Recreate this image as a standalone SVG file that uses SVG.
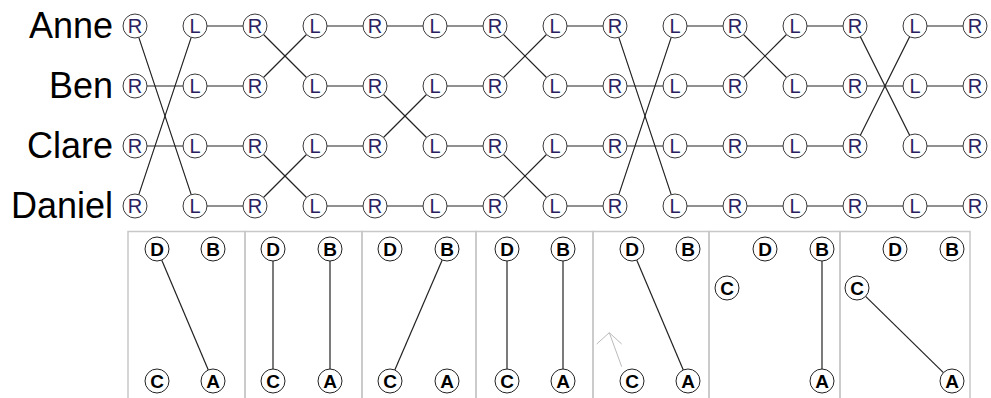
<svg xmlns="http://www.w3.org/2000/svg" width="991" height="398" viewBox="0 0 991 398">
<defs>
<style>
.bg{fill:#fff}
.n circle{fill:#fff;stroke:#3a3a3a;stroke-width:1}
.n text{font-family:"Liberation Sans",Arial,sans-serif;font-size:20px;fill:#2a2060;text-anchor:middle}
.p circle{fill:#fff;stroke:#222;stroke-width:1}
.p text{font-family:"Liberation Sans",Arial,sans-serif;font-size:19px;font-weight:bold;fill:#000;text-anchor:middle}
.lbl{font-family:"Liberation Sans",Arial,sans-serif;font-size:36px;fill:#000;text-anchor:end}
.c line{stroke:#222;stroke-width:1.2;fill:none}
.frame rect{fill:none;stroke:#c8c8c8;stroke-width:1.5}
.hint{stroke:#bbb;stroke-width:1;fill:none}
</style>
</defs>
<rect class="bg" x="0" y="0" width="991" height="398"/>

<g id="labels">
<text class="lbl" x="113" y="38">Anne</text>
<text class="lbl" x="113" y="98">Ben</text>
<text class="lbl" x="113" y="158">Clare</text>
<text class="lbl" x="113" y="218">Daniel</text>
</g>

<g id="connectors" class="c">
<!-- gap 0 -->
<line x1="138.79" y1="37.38" x2="191.21" y2="194.62"/>
<line x1="138.79" y1="194.62" x2="191.21" y2="37.38"/>
<line x1="147" y1="86" x2="183" y2="86"/>
<line x1="147" y1="146" x2="183" y2="146"/>
<!-- gap 1 -->
<line x1="207" y1="26" x2="243" y2="26"/>
<line x1="207" y1="86" x2="243" y2="86"/>
<line x1="207" y1="146" x2="243" y2="146"/>
<line x1="207" y1="206" x2="243" y2="206"/>
<!-- gap 2 -->
<line x1="263.49" y1="34.49" x2="306.51" y2="77.51"/>
<line x1="263.49" y1="77.51" x2="306.51" y2="34.49"/>
<line x1="263.49" y1="154.49" x2="306.51" y2="197.51"/>
<line x1="263.49" y1="197.51" x2="306.51" y2="154.49"/>
<!-- gap 3 -->
<line x1="327" y1="26" x2="363" y2="26"/>
<line x1="327" y1="86" x2="363" y2="86"/>
<line x1="327" y1="146" x2="363" y2="146"/>
<line x1="327" y1="206" x2="363" y2="206"/>
<!-- gap 4 -->
<line x1="387" y1="26" x2="423" y2="26"/>
<line x1="383.49" y1="94.49" x2="426.51" y2="137.51"/>
<line x1="383.49" y1="137.51" x2="426.51" y2="94.49"/>
<line x1="387" y1="206" x2="423" y2="206"/>
<!-- gap 5 -->
<line x1="447" y1="26" x2="483" y2="26"/>
<line x1="447" y1="86" x2="483" y2="86"/>
<line x1="447" y1="146" x2="483" y2="146"/>
<line x1="447" y1="206" x2="483" y2="206"/>
<!-- gap 6 -->
<line x1="503.49" y1="34.49" x2="546.51" y2="77.51"/>
<line x1="503.49" y1="77.51" x2="546.51" y2="34.49"/>
<line x1="503.49" y1="154.49" x2="546.51" y2="197.51"/>
<line x1="503.49" y1="197.51" x2="546.51" y2="154.49"/>
<!-- gap 7 -->
<line x1="567" y1="26" x2="603" y2="26"/>
<line x1="567" y1="86" x2="603" y2="86"/>
<line x1="567" y1="146" x2="603" y2="146"/>
<line x1="567" y1="206" x2="603" y2="206"/>
<!-- gap 8 -->
<line x1="618.79" y1="37.38" x2="671.21" y2="194.62"/>
<line x1="618.79" y1="194.62" x2="671.21" y2="37.38"/>
<line x1="627" y1="86" x2="663" y2="86"/>
<line x1="627" y1="146" x2="663" y2="146"/>
<!-- gap 9 -->
<line x1="687" y1="26" x2="723" y2="26"/>
<line x1="687" y1="86" x2="723" y2="86"/>
<line x1="687" y1="146" x2="723" y2="146"/>
<line x1="687" y1="206" x2="723" y2="206"/>
<!-- gap 10 -->
<line x1="743.49" y1="34.49" x2="786.51" y2="77.51"/>
<line x1="743.49" y1="77.51" x2="786.51" y2="34.49"/>
<line x1="747" y1="146" x2="783" y2="146"/>
<line x1="747" y1="206" x2="783" y2="206"/>
<!-- gap 11 -->
<line x1="807" y1="26" x2="843" y2="26"/>
<line x1="807" y1="86" x2="843" y2="86"/>
<line x1="807" y1="146" x2="843" y2="146"/>
<line x1="807" y1="206" x2="843" y2="206"/>
<!-- gap 12 -->
<line x1="860.37" y1="36.73" x2="909.63" y2="135.27"/>
<line x1="860.37" y1="135.27" x2="909.63" y2="36.73"/>
<line x1="867" y1="86" x2="903" y2="86"/>
<line x1="867" y1="206" x2="903" y2="206"/>
<!-- gap 13 -->
<line x1="927" y1="26" x2="963" y2="26"/>
<line x1="927" y1="86" x2="963" y2="86"/>
<line x1="927" y1="146" x2="963" y2="146"/>
<line x1="927" y1="206" x2="963" y2="206"/>
</g>

<g id="nodes">
<g id="anne-0" class="n"><circle cx="135" cy="26" r="12"/><text x="135" y="33">R</text></g>
<g id="anne-1" class="n"><circle cx="195" cy="26" r="12"/><text x="195" y="33">L</text></g>
<g id="anne-2" class="n"><circle cx="255" cy="26" r="12"/><text x="255" y="33">R</text></g>
<g id="anne-3" class="n"><circle cx="315" cy="26" r="12"/><text x="315" y="33">L</text></g>
<g id="anne-4" class="n"><circle cx="375" cy="26" r="12"/><text x="375" y="33">R</text></g>
<g id="anne-5" class="n"><circle cx="435" cy="26" r="12"/><text x="435" y="33">L</text></g>
<g id="anne-6" class="n"><circle cx="495" cy="26" r="12"/><text x="495" y="33">R</text></g>
<g id="anne-7" class="n"><circle cx="555" cy="26" r="12"/><text x="555" y="33">L</text></g>
<g id="anne-8" class="n"><circle cx="615" cy="26" r="12"/><text x="615" y="33">R</text></g>
<g id="anne-9" class="n"><circle cx="675" cy="26" r="12"/><text x="675" y="33">L</text></g>
<g id="anne-10" class="n"><circle cx="735" cy="26" r="12"/><text x="735" y="33">R</text></g>
<g id="anne-11" class="n"><circle cx="795" cy="26" r="12"/><text x="795" y="33">L</text></g>
<g id="anne-12" class="n"><circle cx="855" cy="26" r="12"/><text x="855" y="33">R</text></g>
<g id="anne-13" class="n"><circle cx="915" cy="26" r="12"/><text x="915" y="33">L</text></g>
<g id="anne-14" class="n"><circle cx="975" cy="26" r="12"/><text x="975" y="33">R</text></g>

<g id="ben-0" class="n"><circle cx="135" cy="86" r="12"/><text x="135" y="93">R</text></g>
<g id="ben-1" class="n"><circle cx="195" cy="86" r="12"/><text x="195" y="93">L</text></g>
<g id="ben-2" class="n"><circle cx="255" cy="86" r="12"/><text x="255" y="93">R</text></g>
<g id="ben-3" class="n"><circle cx="315" cy="86" r="12"/><text x="315" y="93">L</text></g>
<g id="ben-4" class="n"><circle cx="375" cy="86" r="12"/><text x="375" y="93">R</text></g>
<g id="ben-5" class="n"><circle cx="435" cy="86" r="12"/><text x="435" y="93">L</text></g>
<g id="ben-6" class="n"><circle cx="495" cy="86" r="12"/><text x="495" y="93">R</text></g>
<g id="ben-7" class="n"><circle cx="555" cy="86" r="12"/><text x="555" y="93">L</text></g>
<g id="ben-8" class="n"><circle cx="615" cy="86" r="12"/><text x="615" y="93">R</text></g>
<g id="ben-9" class="n"><circle cx="675" cy="86" r="12"/><text x="675" y="93">L</text></g>
<g id="ben-10" class="n"><circle cx="735" cy="86" r="12"/><text x="735" y="93">R</text></g>
<g id="ben-11" class="n"><circle cx="795" cy="86" r="12"/><text x="795" y="93">L</text></g>
<g id="ben-12" class="n"><circle cx="855" cy="86" r="12"/><text x="855" y="93">R</text></g>
<g id="ben-13" class="n"><circle cx="915" cy="86" r="12"/><text x="915" y="93">L</text></g>
<g id="ben-14" class="n"><circle cx="975" cy="86" r="12"/><text x="975" y="93">R</text></g>

<g id="clare-0" class="n"><circle cx="135" cy="146" r="12"/><text x="135" y="153">R</text></g>
<g id="clare-1" class="n"><circle cx="195" cy="146" r="12"/><text x="195" y="153">L</text></g>
<g id="clare-2" class="n"><circle cx="255" cy="146" r="12"/><text x="255" y="153">R</text></g>
<g id="clare-3" class="n"><circle cx="315" cy="146" r="12"/><text x="315" y="153">L</text></g>
<g id="clare-4" class="n"><circle cx="375" cy="146" r="12"/><text x="375" y="153">R</text></g>
<g id="clare-5" class="n"><circle cx="435" cy="146" r="12"/><text x="435" y="153">L</text></g>
<g id="clare-6" class="n"><circle cx="495" cy="146" r="12"/><text x="495" y="153">R</text></g>
<g id="clare-7" class="n"><circle cx="555" cy="146" r="12"/><text x="555" y="153">L</text></g>
<g id="clare-8" class="n"><circle cx="615" cy="146" r="12"/><text x="615" y="153">R</text></g>
<g id="clare-9" class="n"><circle cx="675" cy="146" r="12"/><text x="675" y="153">L</text></g>
<g id="clare-10" class="n"><circle cx="735" cy="146" r="12"/><text x="735" y="153">R</text></g>
<g id="clare-11" class="n"><circle cx="795" cy="146" r="12"/><text x="795" y="153">L</text></g>
<g id="clare-12" class="n"><circle cx="855" cy="146" r="12"/><text x="855" y="153">R</text></g>
<g id="clare-13" class="n"><circle cx="915" cy="146" r="12"/><text x="915" y="153">L</text></g>
<g id="clare-14" class="n"><circle cx="975" cy="146" r="12"/><text x="975" y="153">R</text></g>

<g id="daniel-0" class="n"><circle cx="135" cy="206" r="12"/><text x="135" y="213">R</text></g>
<g id="daniel-1" class="n"><circle cx="195" cy="206" r="12"/><text x="195" y="213">L</text></g>
<g id="daniel-2" class="n"><circle cx="255" cy="206" r="12"/><text x="255" y="213">R</text></g>
<g id="daniel-3" class="n"><circle cx="315" cy="206" r="12"/><text x="315" y="213">L</text></g>
<g id="daniel-4" class="n"><circle cx="375" cy="206" r="12"/><text x="375" y="213">R</text></g>
<g id="daniel-5" class="n"><circle cx="435" cy="206" r="12"/><text x="435" y="213">L</text></g>
<g id="daniel-6" class="n"><circle cx="495" cy="206" r="12"/><text x="495" y="213">R</text></g>
<g id="daniel-7" class="n"><circle cx="555" cy="206" r="12"/><text x="555" y="213">L</text></g>
<g id="daniel-8" class="n"><circle cx="615" cy="206" r="12"/><text x="615" y="213">R</text></g>
<g id="daniel-9" class="n"><circle cx="675" cy="206" r="12"/><text x="675" y="213">L</text></g>
<g id="daniel-10" class="n"><circle cx="735" cy="206" r="12"/><text x="735" y="213">R</text></g>
<g id="daniel-11" class="n"><circle cx="795" cy="206" r="12"/><text x="795" y="213">L</text></g>
<g id="daniel-12" class="n"><circle cx="855" cy="206" r="12"/><text x="855" y="213">R</text></g>
<g id="daniel-13" class="n"><circle cx="915" cy="206" r="12"/><text x="915" y="213">L</text></g>
<g id="daniel-14" class="n"><circle cx="975" cy="206" r="12"/><text x="975" y="213">R</text></g>
</g>

<g id="panel-frames" class="frame">
<rect x="128" y="231.5" width="117" height="200"/>
<rect x="245" y="231.5" width="117" height="200"/>
<rect x="362" y="231.5" width="114" height="200"/>
<rect x="476" y="231.5" width="117" height="200"/>
<rect x="593" y="231.5" width="116" height="200"/>
<rect x="709" y="231.5" width="131" height="200"/>
<rect x="840" y="231.5" width="130" height="200"/>
</g>

<g id="panel-connectors" class="c">
<line x1="161.7" y1="260" x2="208.3" y2="370"/>
<line x1="273" y1="261" x2="273" y2="369"/>
<line x1="330" y1="261" x2="330" y2="369"/>
<line x1="442.2" y1="260" x2="394.8" y2="370"/>
<line x1="507" y1="261" x2="507" y2="369"/>
<line x1="563" y1="261" x2="563" y2="369"/>
<line x1="636.7" y1="260" x2="683.3" y2="370"/>
<line x1="822" y1="261" x2="822" y2="369"/>
<line x1="865.6" y1="296.4" x2="943.4" y2="372.6"/>
</g>

<g id="panel-hint">
<polyline class="hint" points="596.7,344 609.3,332.7 621.7,344"/>
<line class="hint" x1="609.3" y1="332.7" x2="621.7" y2="366.7"/>
</g>

<g id="panel1-d" class="p"><circle cx="157" cy="249" r="12"/><text x="157" y="256">D</text></g>
<g id="panel1-b" class="p"><circle cx="213" cy="249" r="12"/><text x="213" y="256">B</text></g>
<g id="panel1-c" class="p"><circle cx="157" cy="381" r="12"/><text x="157" y="388">C</text></g>
<g id="panel1-a" class="p"><circle cx="213" cy="381" r="12"/><text x="213" y="388">A</text></g>

<g id="panel2-d" class="p"><circle cx="273" cy="249" r="12"/><text x="273" y="256">D</text></g>
<g id="panel2-b" class="p"><circle cx="330" cy="249" r="12"/><text x="330" y="256">B</text></g>
<g id="panel2-c" class="p"><circle cx="273" cy="381" r="12"/><text x="273" y="388">C</text></g>
<g id="panel2-a" class="p"><circle cx="330" cy="381" r="12"/><text x="330" y="388">A</text></g>

<g id="panel3-d" class="p"><circle cx="390" cy="249" r="12"/><text x="390" y="256">D</text></g>
<g id="panel3-b" class="p"><circle cx="447" cy="249" r="12"/><text x="447" y="256">B</text></g>
<g id="panel3-c" class="p"><circle cx="390" cy="381" r="12"/><text x="390" y="388">C</text></g>
<g id="panel3-a" class="p"><circle cx="447" cy="381" r="12"/><text x="447" y="388">A</text></g>

<g id="panel4-d" class="p"><circle cx="507" cy="249" r="12"/><text x="507" y="256">D</text></g>
<g id="panel4-b" class="p"><circle cx="563" cy="249" r="12"/><text x="563" y="256">B</text></g>
<g id="panel4-c" class="p"><circle cx="507" cy="381" r="12"/><text x="507" y="388">C</text></g>
<g id="panel4-a" class="p"><circle cx="563" cy="381" r="12"/><text x="563" y="388">A</text></g>

<g id="panel5-d" class="p"><circle cx="632" cy="249" r="12"/><text x="632" y="256">D</text></g>
<g id="panel5-b" class="p"><circle cx="688" cy="249" r="12"/><text x="688" y="256">B</text></g>
<g id="panel5-c" class="p"><circle cx="632" cy="381" r="12"/><text x="632" y="388">C</text></g>
<g id="panel5-a" class="p"><circle cx="688" cy="381" r="12"/><text x="688" y="388">A</text></g>

<g id="panel6-d" class="p"><circle cx="765" cy="249" r="12"/><text x="765" y="256">D</text></g>
<g id="panel6-b" class="p"><circle cx="822" cy="249" r="12"/><text x="822" y="256">B</text></g>
<g id="panel6-c" class="p"><circle cx="727" cy="288" r="12"/><text x="727" y="295">C</text></g>
<g id="panel6-a" class="p"><circle cx="822" cy="381" r="12"/><text x="822" y="388">A</text></g>

<g id="panel7-d" class="p"><circle cx="895" cy="249" r="12"/><text x="895" y="256">D</text></g>
<g id="panel7-b" class="p"><circle cx="952" cy="249" r="12"/><text x="952" y="256">B</text></g>
<g id="panel7-c" class="p"><circle cx="857" cy="288" r="12"/><text x="857" y="295">C</text></g>
<g id="panel7-a" class="p"><circle cx="952" cy="381" r="12"/><text x="952" y="388">A</text></g>
</svg>
